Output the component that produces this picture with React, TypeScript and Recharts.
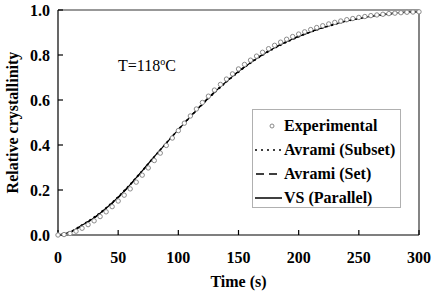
import React from 'react';
import {
  ComposedChart,
  Line,
  Scatter,
  XAxis,
  YAxis,
  ReferenceLine,
} from 'recharts';

// time grid for the measured points (s)
const EXP_TIME = [
  0, 5, 10, 15, 20, 25, 30, 35, 40, 45, 50, 55, 60, 65, 70, 75, 80, 85, 90, 95,
  100, 105, 110, 115, 120, 125, 130, 135, 140, 145, 150, 155, 160, 165, 170, 175,
  180, 185, 190, 195, 200, 205, 210, 215, 220, 225, 230, 235, 240, 245, 250, 255,
  260, 265, 270, 275, 280, 285, 290, 295, 300,
];
const EXPERIMENTAL = [
  0.0, 0.002, 0.007, 0.017, 0.03, 0.046, 0.063, 0.082, 0.103, 0.126, 0.151, 0.177,
  0.205, 0.235, 0.266, 0.298, 0.331, 0.364, 0.398, 0.431, 0.464, 0.497, 0.529, 0.56,
  0.589, 0.617, 0.644, 0.669, 0.693, 0.716, 0.738, 0.758, 0.777, 0.795, 0.812, 0.828,
  0.843, 0.857, 0.87, 0.882, 0.893, 0.903, 0.913, 0.922, 0.93, 0.938, 0.945, 0.951,
  0.957, 0.962, 0.967, 0.971, 0.975, 0.978, 0.981, 0.984, 0.986, 0.988, 0.99, 0.991,
  0.992,
];

// time grid for the model curves (s)
const FIT_TIME = [
  0, 10, 20, 30, 40, 50, 60, 70, 80, 90, 100, 110, 120, 130, 140, 150, 160, 170,
  180, 190, 200, 210, 220, 230, 240, 250, 260, 270, 280, 290, 300,
];
const AVRAMI_SUBSET = [
  0, 0.014, 0.045, 0.079, 0.121, 0.17, 0.226, 0.286, 0.348, 0.409, 0.468, 0.525,
  0.58, 0.632, 0.68, 0.724, 0.764, 0.799, 0.83, 0.857, 0.881, 0.902, 0.92, 0.936,
  0.95, 0.962, 0.971, 0.979, 0.985, 0.989, 0.992,
];
const AVRAMI_SET = [
  0, 0.012, 0.042, 0.076, 0.118, 0.167, 0.223, 0.284, 0.347, 0.408, 0.469, 0.527,
  0.583, 0.635, 0.683, 0.727, 0.767, 0.802, 0.833, 0.86, 0.883, 0.904, 0.922, 0.938,
  0.952, 0.963, 0.972, 0.98, 0.986, 0.99, 0.993,
];
const VS_PARALLEL = [
  0, 0.013, 0.044, 0.077, 0.119, 0.168, 0.224, 0.285, 0.348, 0.408, 0.468, 0.526,
  0.582, 0.634, 0.682, 0.726, 0.766, 0.801, 0.832, 0.859, 0.882, 0.903, 0.921, 0.937,
  0.951, 0.963, 0.972, 0.98, 0.986, 0.99, 0.993,
];

const X_TICKS = [0, 50, 100, 150, 200, 250, 300];
const Y_TICKS = [0, 0.2, 0.4, 0.6, 0.8, 1.0];

const expData = EXP_TIME.map((t, i) => ({ t, v: EXPERIMENTAL[i] }));
const subsetData = FIT_TIME.map((t, i) => ({ t, v: AVRAMI_SUBSET[i] }));
const setData = FIT_TIME.map((t, i) => ({ t, v: AVRAMI_SET[i] }));
const vsData = FIT_TIME.map((t, i) => ({ t, v: VS_PARALLEL[i] }));

const FONT = '"Liberation Serif", "Times New Roman", serif';
const tickStyle = { fontFamily: FONT, fontSize: 16, fontWeight: 'bold', fill: '#000' };

const OpenCircle = (props: any) => {
  const { cx, cy } = props;
  return <circle cx={cx} cy={cy} r={2.2} fill="#fff" stroke="#8a8a8a" strokeWidth={1} />;
};

const LEGEND_ITEMS = [
  { label: 'Experimental', kind: 'circle' },
  { label: 'Avrami (Subset)', kind: 'dot' },
  { label: 'Avrami (Set)', kind: 'dash' },
  { label: 'VS (Parallel)', kind: 'solid' },
];

const LegendBox = () => (
  <div
    style={{
      position: 'absolute',
      left: 252,
      top: 109,
      border: '1px solid #b0b0b0',
      background: '#fff',
      width: 149,
      height: 99,
      boxSizing: 'border-box',
      padding: '4px 0 0 1px',
      fontFamily: FONT,
      fontWeight: 'bold',
      fontSize: 16,
    }}
  >
    {LEGEND_ITEMS.map((it) => (
      <div key={it.label} style={{ display: 'flex', alignItems: 'center', height: 24 }}>
        <svg width={28} height={10} style={{ marginRight: 2 }}>
          {it.kind === 'circle' && (
            <circle cx={18} cy={5} r={2} fill="#fff" stroke="#8a8a8a" />
          )}
          {it.kind === 'dot' && (
            <line x1={1} x2={28} y1={5} y2={5} stroke="#000" strokeWidth={1.5} strokeDasharray="2 4" />
          )}
          {it.kind === 'dash' && (
            <line x1={2} x2={28} y1={5} y2={5} stroke="#000" strokeWidth={1.5} strokeDasharray="8 5" />
          )}
          {it.kind === 'solid' && (
            <line x1={1} x2={28} y1={5} y2={5} stroke="#000" strokeWidth={1.5} />
          )}
        </svg>
        <span>{it.label}</span>
      </div>
    ))}
  </div>
);

export default function App() {
  return (
    <div style={{ position: 'absolute', left: 0, top: 0, width: 433, height: 298, background: '#fff' }}>
      <ComposedChart width={433} height={298} margin={{ top: 10, right: 14, bottom: 0, left: 0 }}>
        <XAxis
          type="number"
          dataKey="t"
          domain={[0, 300]}
          ticks={X_TICKS}
          allowDuplicatedCategory={false}
          height={63}
          tick={tickStyle}
          tickSize={-5}
          tickMargin={22}
          stroke="#000"
          strokeWidth={1.2}
          label={{
            value: 'Time (s)',
            position: 'insideBottom',
            offset: 11,
            style: { fontFamily: FONT, fontSize: 16, fontWeight: 'bold', fill: '#000' },
          }}
        />
        <YAxis
          type="number"
          dataKey="v"
          domain={[0, 1]}
          ticks={Y_TICKS}
          tickFormatter={(v: number) => v.toFixed(1)}
          width={58}
          tick={tickStyle}
          tickSize={-5}
          tickMargin={13}
          stroke="#000"
          strokeWidth={1.2}
          label={{
            value: 'Relative crystallinity',
            angle: -90,
            position: 'insideLeft',
            offset: 12,
            textAnchor: 'middle',
            style: { fontFamily: FONT, fontSize: 16, fontWeight: 'bold', fill: '#000', textAnchor: 'middle' },
          }}
        />
        <ReferenceLine y={1} stroke="#333" strokeWidth={1.2} />
        <ReferenceLine x={300} stroke="#333" strokeWidth={1.2} />
        <Scatter
          data={expData}
          dataKey="v"
          shape={OpenCircle}
          isAnimationActive={false}
        />
        <Line
          data={subsetData}
          dataKey="v"
          type="monotone"
          stroke="#000"
          strokeWidth={1.5}
          strokeDasharray="2 3"
          dot={false}
          isAnimationActive={false}
        />
        <Line
          data={setData}
          dataKey="v"
          type="monotone"
          stroke="#000"
          strokeWidth={1.5}
          strokeDasharray="6 4"
          dot={false}
          isAnimationActive={false}
        />
        <Line
          data={vsData}
          dataKey="v"
          type="monotone"
          stroke="#000"
          strokeWidth={1.2}
          dot={false}
          isAnimationActive={false}
        />
      </ComposedChart>
      <LegendBox />
      <div
        style={{
          position: 'absolute',
          left: 118,
          top: 56,
          fontFamily: FONT,
          fontSize: 16,
          color: '#000',
          whiteSpace: 'nowrap',
        }}
      >
        T=118<sup style={{ fontSize: 10 }}>o</sup>C
      </div>
    </div>
  );
}
